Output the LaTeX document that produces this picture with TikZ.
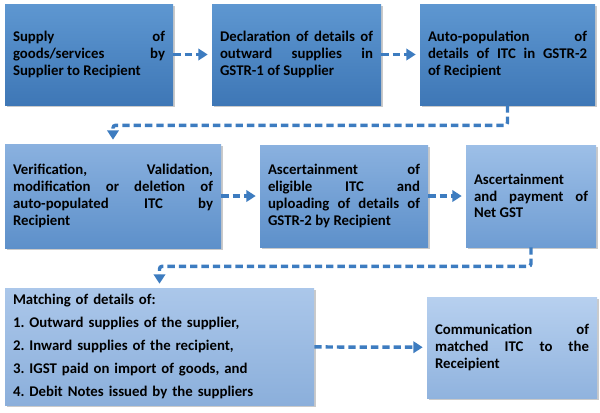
\documentclass[tikz,border=0pt]{standalone}
\usepackage{fontspec}
\setmainfont{Carlito}
\frenchspacing
\usetikzlibrary{arrows.meta,shadows}
\definecolor{conn}{HTML}{3D7CC0}
\tikzset{
  box/.style={rectangle, inner xsep=6pt, inner ysep=3pt, align=justify,
    font=\fontsize{11.1}{12.6}\selectfont\bfseries,
    drop shadow={shadow xshift=1.2pt, shadow yshift=-1.5pt, opacity=0.35, fill=black!60}},
  conn/.style={draw=conn, line width=2.6pt, dash pattern=on 5.5pt off 3pt,
    -{Triangle[length=7pt,width=8.5pt]}, shorten >=3pt},
}
\definecolor{aTop}{HTML}{5E97D1}\definecolor{aBot}{HTML}{3E77B6}
\definecolor{bTop}{HTML}{8AB1DF}\definecolor{bBot}{HTML}{5D90CA}
\definecolor{cTop}{HTML}{9DBFE7}\definecolor{cBot}{HTML}{6F9DD3}
\definecolor{dTop}{HTML}{ABC7EA}\definecolor{dBot}{HTML}{8BAFDB}
\definecolor{eTop}{HTML}{B7D0EF}\definecolor{eBot}{HTML}{90B3DE}
\tikzset{
  rowa/.style={box, top color=aTop, bottom color=aBot},
  rowb/.style={box, top color=bTop, bottom color=bBot},
  rowc/.style={box, top color=cTop, bottom color=cBot},
  rowd/.style={box, top color=dTop, bottom color=dBot},
  rowe/.style={box, top color=eTop, bottom color=eBot},
}
\begin{document}
\begin{tikzpicture}[x=0.75pt,y=-0.75pt]
\useasboundingbox (0,0) rectangle (600,412);
% row 1
\node[rowa, minimum width=126pt, minimum height=75.75pt, text width=114pt] (b1) at (89,54.5)
  {Supply of\linebreak goods/services by\linebreak Supplier to Recipient};
\node[rowa, minimum width=126.75pt, minimum height=75.75pt, text width=114.75pt] (b2) at (296.5,54.5)
  {Declaration of details of\linebreak outward supplies in\linebreak GSTR-1 of Supplier};
\node[rowa, minimum width=131.25pt, minimum height=75.75pt, text width=119.25pt] (b3) at (507.5,54.5)
  {Auto-population of\linebreak details of ITC in GSTR-2\linebreak of Recipient};
% row 2
\node[rowb, minimum width=162pt, minimum height=78pt, text width=150pt] (b4) at (113,196)
  {Verification, Validation,\linebreak modification or deletion of\linebreak auto-populated ITC by\linebreak Recipient};
\node[rowb, minimum width=126pt, minimum height=76.5pt, text width=114pt] (b5) at (344,196)
  {Ascertainment of\linebreak eligible ITC and\linebreak uploading of details of\linebreak GSTR-2 by Recipient};
\node[rowc, minimum width=97.5pt, minimum height=76.5pt, text width=85.5pt] (b6) at (531,196)
  {Ascertainment\linebreak and payment of\linebreak Net GST};
% row 3
\node[rowd, minimum width=231.75pt, minimum height=87.75pt, text width=219.75pt, align=left,
  font=\fontsize{11.1}{17.1}\selectfont\bfseries] (b7) at (159.5,346.5)
  {Matching of details of:\\ 1. Outward supplies of the supplier,\\ 2. Inward supplies of the recipient,\\ 3. IGST paid on import of goods, and\\ 4. Debit Notes issued by the suppliers};
\node[rowe, minimum width=127.5pt, minimum height=75.75pt, text width=115.5pt] (b8) at (512,347.5)
  {Communication of\linebreak matched ITC to the\linebreak Receipient};
% connectors
\draw[conn] (b1) -- (b2);
\draw[conn] (b2) -- (b3);
\draw[conn, rounded corners=2pt] (b3.south) -- ++(0,20) -| (b4.north);
\draw[conn] (b4) -- (b5);
\draw[conn] (b5) -- (b6);
\draw[conn, rounded corners=2pt] (b6.south) -- ++(0,19) -| (b7.north);
\draw[conn] (b7) -- (b8);
\end{tikzpicture}
\end{document}
